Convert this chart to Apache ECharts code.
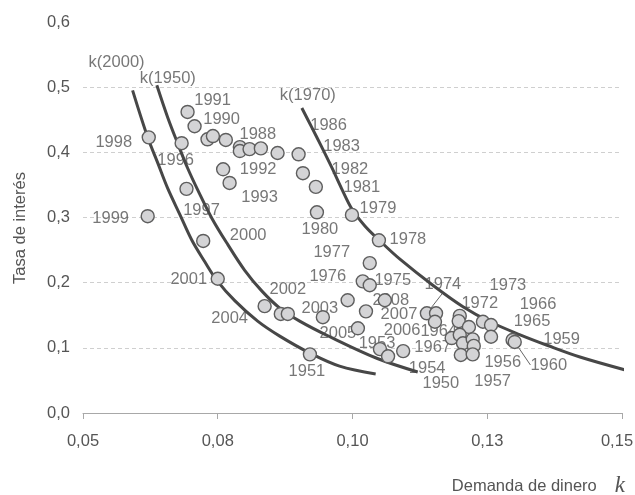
<!DOCTYPE html>
<html>
<head>
<meta charset="utf-8">
<script src="https://cdn.jsdelivr.net/npm/echarts@6/dist/echarts.min.js"></script>
<style>
  html, body { margin: 0; padding: 0; background: #fff; }
  #chart { width: 635px; height: 495px; }
</style>
</head>
<body>
<div id="chart"></div>
<script>
// Tick labels
const xTickLabels = ['0,05', '0,08', '0,10', '0,13', '0,15'];
const yTickLabels = ['0,0', '0,1', '0,2', '0,3', '0,4', '0,5', '0,6'];

// Observations: year, money demand k, interest rate
const years = [
  1998, 1999, 1996, 1997, 1991, 1990, 1989, 1987, 1985, 1984, 1994, 1995, 1988, 1986, 1983,
  1982, 1981, 1980, 1979, 1978, 1992, 1993,
  2000, 2001, 2004, 2002, 1952, 2003, 1951, 1977, 1976, 1975, 1971, 2008, 2007, 2005, 1953, 2006, 1954,
  1974, 1970, 1969, 1972, 1968, 1963, 1967, 1964, 1961, 1962, 1956, 1950, 1957, 1973, 1966, 1965, 1959, 1960
];
const kValues = [
  0.0622, 0.0620, 0.0683, 0.0692, 0.0694, 0.0707, 0.0731, 0.0741, 0.0765, 0.0791, 0.0791, 0.0809, 0.0830, 0.0861, 0.0900,
  0.0908, 0.0932, 0.0934, 0.0999, 0.1049, 0.0760, 0.0772,
  0.0723, 0.0750, 0.0837, 0.0867, 0.0880, 0.0945, 0.0921, 0.1032, 0.1019, 0.1032, 0.0991, 0.1060, 0.1025, 0.1010, 0.1051, 0.1066, 0.1094,
  0.1138, 0.1155, 0.1153, 0.1199, 0.1197, 0.1216, 0.1184, 0.1199, 0.1205, 0.1223, 0.1225, 0.1201, 0.1223, 0.1242, 0.1257, 0.1257, 0.1297, 0.1301
];
const rValues = [
  0.423, 0.302, 0.414, 0.344, 0.462, 0.440, 0.420, 0.425, 0.419, 0.408, 0.402, 0.405, 0.406, 0.399, 0.397,
  0.368, 0.347, 0.308, 0.304, 0.265, 0.374, 0.353,
  0.264, 0.206, 0.164, 0.152, 0.152, 0.147, 0.090, 0.230, 0.202, 0.196, 0.173, 0.173, 0.156, 0.130, 0.098, 0.087, 0.095,
  0.153, 0.153, 0.140, 0.149, 0.141, 0.132, 0.115, 0.120, 0.107, 0.113, 0.103, 0.089, 0.090, 0.140, 0.135, 0.117, 0.112, 0.109
];

// Money demand curves [k, r]
const curve2000 = [
  [0.0592, 0.495], [0.0620, 0.423], [0.0639, 0.383], [0.0657, 0.345], [0.0680, 0.304],
  [0.0702, 0.265], [0.0726, 0.232], [0.0748, 0.204], [0.0782, 0.172], [0.0824, 0.141],
  [0.0865, 0.118], [0.0921, 0.092], [0.0976, 0.072], [0.1043, 0.060]
];
const curve1950 = [
  [0.0637, 0.503], [0.0657, 0.454], [0.0676, 0.413], [0.0694, 0.376], [0.0713, 0.342],
  [0.0739, 0.299], [0.0769, 0.258], [0.0800, 0.219], [0.0832, 0.187], [0.0865, 0.161],
  [0.0902, 0.141], [0.0958, 0.117], [0.1045, 0.084], [0.1121, 0.063]
];
const curve1970 = [
  [0.0906, 0.468], [0.0924, 0.439], [0.0943, 0.408], [0.0962, 0.376], [0.0980, 0.344],
  [0.0999, 0.313], [0.1023, 0.287], [0.1051, 0.264], [0.1088, 0.236], [0.1149, 0.196],
  [0.1205, 0.163], [0.1255, 0.140], [0.1311, 0.120], [0.1361, 0.104], [0.1422, 0.086],
  [0.1520, 0.063]
];

// Year tag placement relative to its marker (px)
const labelOffsets = {
  1998: [-35, 5], 1999: [-37, 2], 1996: [-6, 17], 1997: [15, 22], 1991: [25, -11], 1990: [27, -7],
  1988: [-3, -14], 1986: [51, -28], 1983: [43, -8], 1982: [47, -4], 1981: [46, 1], 1980: [3, 17],
  1979: [26, -6], 1978: [29, -1], 1992: [35, 0], 1993: [30, 14],
  2000: [45, -6], 2001: [-29, 1], 2004: [-35, 12], 2002: [7, -24], 2003: [-3, -9], 1951: [-3, 17],
  1977: [-38, -11], 1976: [-35, -5], 1975: [23, -5], 2008: [6, 0], 2007: [33, 3], 2006: [14, -26],
  2005: [-20, 5], 1953: [-3, -6], 1954: [24, 17],
  1974: [16, -29], 1972: [20, -12], 1973: [25, -36], 1966: [47, -21], 1965: [41, -15], 1959: [49, -1],
  1960: [34, 23], 1964: [-21, -3], 1967: [-19, 9], 1950: [-20, 28], 1957: [20, 27], 1956: [29, 17]
};
const leaderYears = [1974, 1960];
const curveNames = ['k(2000)', 'k(1950)', 'k(1970)'];
const curveTagOffsets = { 'k(2000)': [-16, -28], 'k(1950)': [11, -7], 'k(1970)': [6, -13] };

const FONT = '"Liberation Sans", Arial, sans-serif';
const TEXT = '#555';
const FS = 16.5;

const points = years.map((y, i) => [kValues[i], rValues[i], y]);
const tagged = points.filter(p => labelOffsets[p[2]]);

function curveSeries(name, data) {
  return {
    name, type: 'line', data, smooth: 0.35, showSymbol: false, clip: false, z: 3,
    lineStyle: { color: '#474747', width: 3 }, silent: true
  };
}

const chart = echarts.init(document.getElementById('chart'), null, { renderer: 'canvas' });
chart.setOption({
  animation: false,
  backgroundColor: '#fff',
  grid: { left: 83, right: 13, top: 22, bottom: 82, containLabel: false, outerBoundsMode: 'none' },
  xAxis: {
    type: 'value', min: 0.05, max: 0.15, interval: 0.025,
    axisLine: { show: true, lineStyle: { color: '#a8a8a8', width: 1 } },
    axisTick: { show: true, length: 6, lineStyle: { color: '#a8a8a8' } },
    splitLine: { show: false },
    axisLabel: {
      margin: 20, color: TEXT, fontSize: FS, fontFamily: FONT,
      formatter: v => {
        const i = Math.round((v - 0.05) / 0.025);
        // the last tick label is nudged left so it stays inside the frame
        return i === xTickLabels.length - 1 ? `{edge|${xTickLabels[i]}}` : xTickLabels[i];
      },
      rich: { edge: { color: TEXT, fontSize: FS, fontFamily: FONT, padding: [0, 10, 0, 0] } }
    }
  },
  yAxis: {
    type: 'value', min: 0, max: 0.6, interval: 0.1,
    axisLine: { show: false }, axisTick: { show: false },
    splitLine: {
      show: true,
      lineStyle: { color: ['transparent', '#cfcfcf', '#cfcfcf', '#cfcfcf', '#cfcfcf', '#cfcfcf', 'transparent'], type: [4, 3], width: 1 }
    },
    axisLabel: {
      margin: 13, color: TEXT, fontSize: FS, fontFamily: FONT,
      formatter: v => yTickLabels[Math.round(v / 0.1)]
    }
  },
  graphic: [
    {
      type: 'text', x: 20, y: 228, rotation: Math.PI / 2,
      style: { text: 'Tasa de interés', fill: TEXT, font: `${FS}px ${FONT}`, align: 'center', verticalAlign: 'middle' }
    },
    {
      type: 'text', x: 625, y: 486,
      style: {
        text: '{a|Demanda de dinero}{k|k}', align: 'right', verticalAlign: 'middle',
        rich: {
          a: { fill: TEXT, fontSize: FS, fontFamily: FONT },
          k: { fill: TEXT, fontSize: 23, fontStyle: 'italic', fontFamily: '"Liberation Serif", "DejaVu Serif", serif', padding: [0, 0, 0, 18] }
        }
      }
    }
  ],
  series: [
    {
      // year tags sit beneath curves and markers
      name: 'years', type: 'scatter', z: 1, silent: true,
      symbol: 'circle', symbolSize: 13,
      itemStyle: { color: 'rgba(0,0,0,0)', borderWidth: 0 },
      data: tagged.map(p => ({
        value: p,
        labelLine: leaderYears.includes(p[2]) ? { show: true, lineStyle: { color: '#666', width: 1 } } : { show: false }
      })),
      label: {
        show: true, position: 'inside', formatter: p => String(p.value[2]),
        color: TEXT, fontSize: FS, fontFamily: FONT
      },
      labelLayout: params => {
        const o = labelOffsets[tagged[params.dataIndex][2]];
        return { dx: o[0], dy: o[1] };
      }
    },
    curveSeries(curveNames[0], curve2000),
    curveSeries(curveNames[1], curve1950),
    curveSeries(curveNames[2], curve1970),
    {
      name: 'curveTags', type: 'scatter', z: 1, silent: true,
      symbol: 'circle', symbolSize: 2,
      itemStyle: { color: 'rgba(0,0,0,0)' },
      data: [
        { value: curve2000[0], name: curveNames[0] },
        { value: curve1950[0], name: curveNames[1] },
        { value: curve1970[0], name: curveNames[2] }
      ],
      label: {
        show: true, position: 'inside', formatter: p => p.name,
        color: TEXT, fontSize: FS, fontFamily: FONT
      },
      labelLayout: params => {
        const o = curveTagOffsets[curveNames[params.dataIndex]];
        return { dx: o[0], dy: o[1] };
      }
    },
    {
      name: 'observations', type: 'scatter', z: 4, silent: true,
      symbol: 'circle', symbolSize: 13,
      itemStyle: { color: '#d4d4d6', borderColor: '#5e5e5e', borderWidth: 1.4, opacity: 1 },
      data: points
    }
  ]
});
</script>
</body>
</html>
